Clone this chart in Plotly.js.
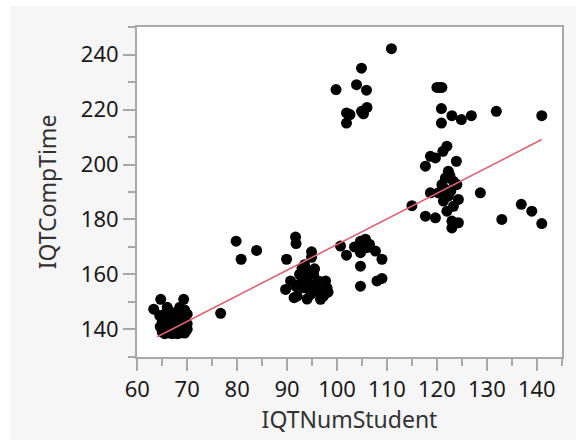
<!DOCTYPE html>
<html>
<head>
<meta charset="utf-8">
<script src="https://cdn.plot.ly/plotly-3.0.1.min.js"></script>
<style>
  html, body { margin: 0; padding: 0; background: #ffffff; width: 576px; height: 440px; overflow: hidden; }
  #chart { position: absolute; left: 10px; top: 6px; width: 566px; height: 434px; }
</style>
</head>
<body>
<div id="chart"></div>
<script>
// IQTNumStudent values
const numStudent = [
  // low cluster
  64.7, 63.3, 64.5, 65.0, 64.6, 65.0, 65.5, 66.0, 66.0, 66.5, 66.5, 67.0, 67.0, 67.5, 67.5, 68.0,
  68.0, 68.5, 68.5, 69.0, 69.0, 69.3, 69.5, 69.5, 70.0, 70.0, 66.0, 65.5, 67.0, 68.0, 69.0, 65.0,
  66.5, 68.5, 70.0, 67.2,
  76.7, 79.8, 80.8, 83.9,
  // 90s cluster
  89.9, 91.7, 91.8, 94.9, 94.9, 93.0, 94.3, 95.3, 90.7, 89.7, 92.0, 93.3, 94.7, 96.7, 98.0, 97.7,
  96.3, 93.3, 91.7, 96.7, 91.4, 95.0, 94.0, 92.5, 95.5, 94.0, 97.3, 98.2, 93.5, 96.0, 92.8,
  // 100-110 middle
  100.7, 101.9, 104.7, 105.7, 104.3, 106.0, 104.7, 107.7, 109.0, 104.7, 104.7, 108.0, 109.0, 103.5, 106.5,
  // 100-110 top
  110.9, 104.9, 99.8, 103.9, 105.9, 101.9, 101.9, 104.9, 106.0, 102.6, 105.3,
  // 115-141
  120.0, 121.0, 120.6, 120.9, 123.0, 124.9, 126.9, 131.9, 141.0, 120.9,
  122.0, 121.2, 119.7, 118.7, 117.7, 123.9, 122.3, 121.7, 121.0, 123.3, 124.0, 120.3, 118.7, 122.3,
  124.3, 121.3, 123.3, 122.0, 117.7, 119.7, 123.0, 124.3, 123.0, 128.7, 133.0,
  115.0, 136.9, 139.0, 141.0, 122.8, 121.6, 122.6
];
// IQTCompTime values
const compTime = [
  150.9, 147.3, 145.0, 143.0, 141.0, 139.0, 138.4, 141.0, 144.0, 146.5, 139.0, 138.4, 142.0, 144.5, 140.0, 138.4,
  146.0, 142.5, 148.0, 140.0, 144.0, 150.9, 147.0, 138.6, 142.0, 145.5, 148.0, 145.5, 140.0, 141.0, 146.0, 141.5,
  138.6, 138.6, 140.0, 143.5,
  145.8, 172.1, 165.5, 168.7,
  165.5, 173.6, 171.2, 168.2, 166.2, 162.2, 161.2, 160.0, 157.6, 154.5, 152.1, 155.1, 152.7, 152.7, 155.1, 157.6,
  157.6, 158.2, 155.7, 150.9, 151.5, 156.0, 158.0, 160.0, 162.0, 151.0, 152.1, 153.5, 163.5, 155.0, 157.0,
  170.3, 167.0, 172.1, 172.8, 169.7, 169.7, 167.9, 168.5, 165.5, 163.0, 155.7, 157.6, 158.5, 170.0, 171.0,
  242.2, 235.1, 227.3, 229.1, 227.1, 218.8, 215.1, 219.4, 220.8, 218.2, 218.5,
  228.1, 228.1, 228.1, 220.4, 217.8, 216.4, 217.8, 219.4, 217.8, 215.1,
  206.7, 204.8, 202.4, 203.0, 199.4, 201.2, 197.6, 195.1, 192.7, 193.9, 192.7, 189.7, 189.7, 188.5,
  187.3, 186.7, 184.8, 183.0, 181.2, 180.6, 179.4, 178.8, 176.9, 189.7, 180.0,
  185.0, 185.5, 183.0, 178.5, 190.5, 191.0, 196.0
];
// fitted line endpoints
const fitX = [64.0, 141.0];
const fitY = [137.3, 209.1];

const xTitle = "IQTNumStudent";
const yTitle = "IQTCompTime";
const xTicks = [60, 70, 80, 90, 100, 110, 120, 130, 140];
const yTicks = [140, 160, 180, 200, 220, 240];

const fontFam = "'Segoe UI', 'Noto Sans', 'Open Sans', sans-serif";
const axisGray = "#a9a9a9";

const traces = [
  {
    type: "scatter", mode: "markers",
    x: numStudent, y: compTime,
    marker: { color: "#000000", size: 11 },
    hoverinfo: "x+y", showlegend: false
  },
  {
    type: "scatter", mode: "lines",
    x: fitX, y: fitY,
    line: { color: "#e0606c", width: 1.6 },
    hoverinfo: "skip", showlegend: false
  }
];

const layout = {
  width: 566, height: 434,
  margin: { l: 127, r: 14, t: 21, b: 83, pad: 0 },
  paper_bgcolor: "#f6f6f6",
  plot_bgcolor: "#ffffff",
  font: { family: fontFam, color: "#1a1a1a", size: 22 },
  showlegend: false,
  xaxis: {
    range: [59.95, 145.05],
    tickmode: "array", tickvals: xTicks, ticktext: xTicks.map(String),
    ticks: "outside", ticklen: 12, tickwidth: 2, tickcolor: axisGray,
    minor: { dtick: 5, tick0: 0, ticks: "outside", ticklen: 7, tickwidth: 2, tickcolor: axisGray, showgrid: false },
    showline: true, linecolor: axisGray, linewidth: 2, mirror: true,
    showgrid: false, zeroline: false,
    tickfont: { family: fontFam, size: 22, color: "#1a1a1a" },
    title: { text: xTitle, font: { family: fontFam, size: 23, color: "#333333" }, standoff: 7 }
  },
  yaxis: {
    range: [129.9, 250.1],
    tickmode: "array", tickvals: yTicks, ticktext: yTicks.map(String),
    ticks: "outside", ticklen: 12, tickwidth: 2, tickcolor: axisGray,
    minor: { dtick: 10, tick0: 0, ticks: "outside", ticklen: 7, tickwidth: 2, tickcolor: axisGray, showgrid: false },
    showline: true, linecolor: axisGray, linewidth: 2, mirror: true,
    showgrid: false, zeroline: false,
    tickfont: { family: fontFam, size: 22, color: "#1a1a1a" },
    title: { text: yTitle, font: { family: fontFam, size: 23, color: "#333333" }, standoff: 18 }
  }
};

Plotly.newPlot("chart", traces, layout, { displayModeBar: false, staticPlot: true });
</script>
</body>
</html>
